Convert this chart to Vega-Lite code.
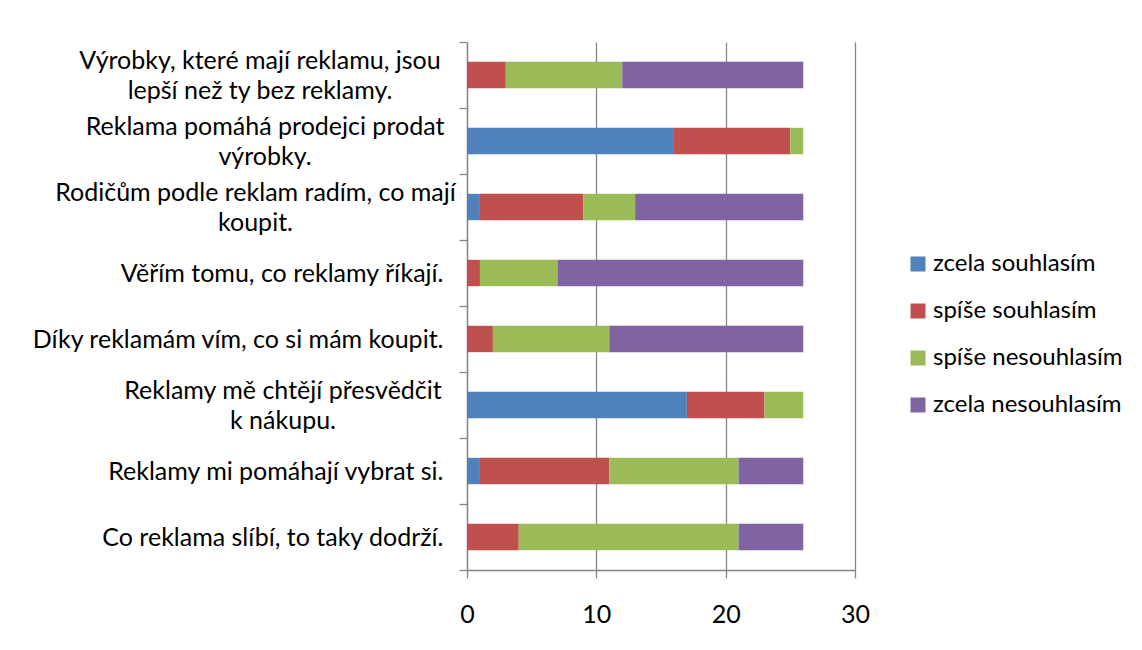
{
  "$schema": "https://vega.github.io/schema/vega-lite/v6.json",
  "autosize": "none",
  "width": 388,
  "height": 528,
  "padding": {"left": 467, "top": 42, "right": 287, "bottom": 80},
  "background": "white",
  "data": {
    "values": [
      {"otazka": "Výrobky, které mají reklamu, jsou\nlepší než ty bez reklamy.", "zcela souhlasím": 0, "spíše souhlasím": 3, "spíše nesouhlasím": 9, "zcela nesouhlasím": 14},
      {"otazka": "Reklama pomáhá prodejci prodat\nvýrobky.", "zcela souhlasím": 16, "spíše souhlasím": 9, "spíše nesouhlasím": 1, "zcela nesouhlasím": 0},
      {"otazka": "Rodičům podle reklam radím, co mají\nkoupit.", "zcela souhlasím": 1, "spíše souhlasím": 8, "spíše nesouhlasím": 4, "zcela nesouhlasím": 13},
      {"otazka": "Věřím tomu, co reklamy říkají.", "zcela souhlasím": 0, "spíše souhlasím": 1, "spíše nesouhlasím": 6, "zcela nesouhlasím": 19},
      {"otazka": "Díky reklamám vím, co si mám koupit.", "zcela souhlasím": 0, "spíše souhlasím": 2, "spíše nesouhlasím": 9, "zcela nesouhlasím": 15},
      {"otazka": "Reklamy mě chtějí přesvědčit\nk nákupu.", "zcela souhlasím": 17, "spíše souhlasím": 6, "spíše nesouhlasím": 3, "zcela nesouhlasím": 0},
      {"otazka": "Reklamy mi pomáhají vybrat si.", "zcela souhlasím": 1, "spíše souhlasím": 10, "spíše nesouhlasím": 10, "zcela nesouhlasím": 5},
      {"otazka": "Co reklama slíbí, to taky dodrží.", "zcela souhlasím": 0, "spíše souhlasím": 4, "spíše nesouhlasím": 17, "zcela nesouhlasím": 5}
    ]
  },
  "transform": [
    {"fold": ["zcela souhlasím", "spíše souhlasím", "spíše nesouhlasím", "zcela nesouhlasím"], "as": ["odpoved", "pocet"]},
    {"calculate": "indexof(['zcela souhlasím', 'spíše souhlasím', 'spíše nesouhlasím', 'zcela nesouhlasím'], datum.odpoved)", "as": "poradi"}
  ],
  "mark": {"type": "bar", "height": {"band": 0.4}},
  "encoding": {
    "y": {
      "field": "otazka",
      "type": "nominal",
      "sort": null,
      "scale": {"paddingInner": 0, "paddingOuter": 0},
      "axis": {
        "title": null,
        "tickBand": "extent",
        "tickSize": 8,
        "tickColor": "#868686",
        "tickWidth": 1.3,
        "domainColor": "#868686",
        "domainWidth": 1.3,
        "grid": false,
        "labelExpr": "isString(datum.value) ? split(datum.value, '\\n') : ''",
        "labelFont": "Lato",
        "labelFontSize": 25,
        "labelColor": "#000000",
        "labelLineHeight": 30,
        "labelLimit": 600,
        "labelOverlap": false,
        "labelBaseline": "middle",
        "labelAlign": {"condition": {"test": "isString(datum.value) && indexof(datum.value, '\\n') >= 0", "value": "center"}, "value": "right"},
        "labelOffset": {"condition": {"test": "isString(datum.value) && indexof(datum.value, '\\n') >= 0", "value": -15}, "value": 0},
        "labelPadding": {
          "condition": [
            {"test": "isString(datum.value) && indexof(datum.value, 'Výrobky') == 0", "value": 199.5},
            {"test": "isString(datum.value) && indexof(datum.value, 'Reklama pomáhá') == 0", "value": 194.5},
            {"test": "isString(datum.value) && indexof(datum.value, 'Rodičům') == 0", "value": 204},
            {"test": "isString(datum.value) && indexof(datum.value, 'Reklamy mě') == 0", "value": 176.5}
          ],
          "value": 16
        }
      }
    },
    "x": {
      "field": "pocet",
      "type": "quantitative",
      "stack": "zero",
      "scale": {"domain": [0, 30], "nice": false},
      "axis": {
        "title": null,
        "values": [0, 10, 20, 30],
        "grid": true,
        "gridColor": "#868686",
        "gridWidth": 1.3,
        "domainColor": "#868686",
        "domainWidth": 1.3,
        "tickColor": "#868686",
        "tickWidth": 1.3,
        "tickSize": 8,
        "labelFont": "Lato",
        "labelFontSize": 25,
        "labelColor": "#000000",
        "labelPadding": 24,
        "labelFlush": false
      }
    },
    "color": {
      "field": "odpoved",
      "type": "nominal",
      "scale": {
        "domain": ["zcela souhlasím", "spíše souhlasím", "spíše nesouhlasím", "zcela nesouhlasím"],
        "range": ["#4F81BD", "#C0504D", "#9BBB59", "#8064A2"]
      },
      "legend": {
        "title": null,
        "orient": "none",
        "legendX": 439,
        "legendY": 210,
        "symbolType": "square",
        "symbolSize": 225,
        "symbolStrokeWidth": 0,
        "symbolOpacity": 1,
        "labelFont": "Lato",
        "labelFontSize": 24,
        "labelColor": "#000000",
        "labelOffset": 3,
        "labelLimit": 400,
        "rowPadding": 23
      }
    },
    "order": {"field": "poradi", "type": "quantitative"}
  },
  "config": {
    "view": {"stroke": null}
  }
}
